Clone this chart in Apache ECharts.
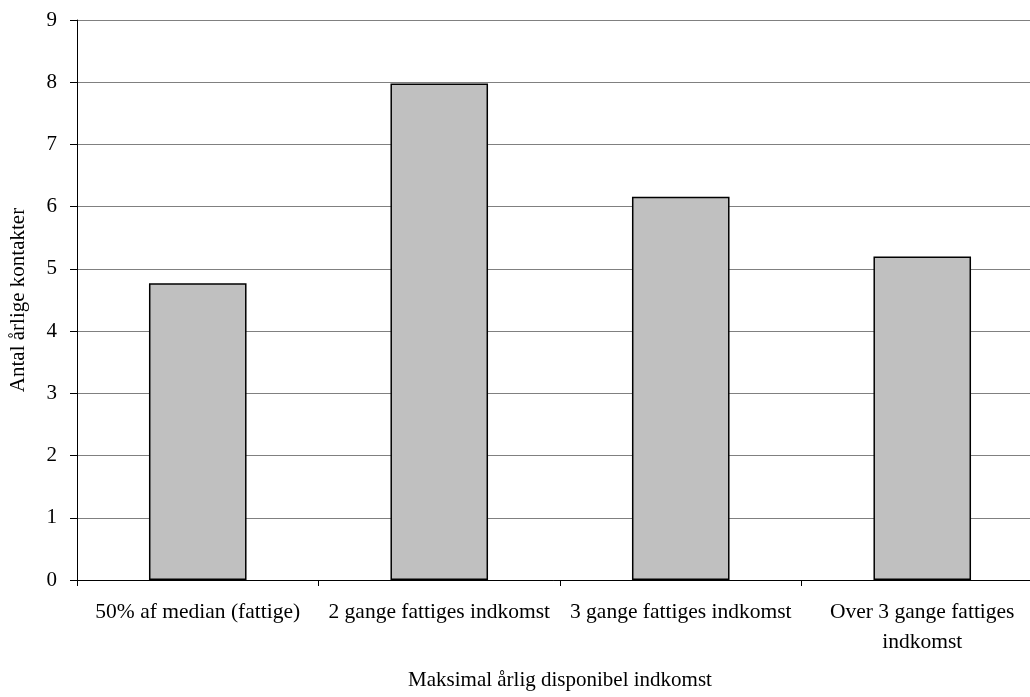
<!DOCTYPE html>
<html>
<head>
<meta charset="utf-8">
<script src="https://cdn.jsdelivr.net/npm/echarts@6/dist/echarts.min.js"></script>
<style>html,body{margin:0;padding:0;background:#fff}#c{width:1030px;height:697px}</style>
</head>
<body>
<div id="c"></div>
<script>
const categories = ['50% af median (fattige)', '2 gange fattiges indkomst', '3 gange fattiges indkomst', 'Over 3 gange fattiges indkomst'];
const values = [4.77, 7.98, 6.16, 5.2];
const yTicks = { min: 0, max: 9, interval: 1 };
const xTitle = 'Maksimal årlig disponibel indkomst';
const yTitle = 'Antal årlige kontakter';

const FONT = '"Liberation Serif", "DejaVu Serif", serif';
const chart = echarts.init(document.getElementById('c'));
chart.setOption({
  animation: false,
  backgroundColor: '#fff',
  grid: { left: 77, top: 20, right: -13, bottom: 117, containLabel: false, outerBoundsMode: 'none' },
  xAxis: {
    type: 'category', data: categories,
    name: xTitle, nameLocation: 'middle', nameGap: 90,
    nameTextStyle: { fontFamily: FONT, fontSize: 21, color: '#000' },
    axisLine: { lineStyle: { color: '#000', width: 1 } },
    axisTick: { show: true, length: 6, inside: false, alignWithLabel: false, lineStyle: { color: '#000' } },
    axisLabel: {
      interval: 0, fontFamily: FONT, fontSize: 21.5, color: '#000', margin: 17, lineHeight: 30,
      formatter: (v, i) => i === 3 ? v.replace(/ (\S+)$/, '\n$1') : v
    }
  },
  yAxis: {
    type: 'value', min: yTicks.min, max: yTicks.max, interval: yTicks.interval,
    name: yTitle, nameLocation: 'middle', nameGap: 48, nameRotate: 90,
    nameTextStyle: { fontFamily: FONT, fontSize: 21, color: '#000' },
    axisLine: { show: true, lineStyle: { color: '#000', width: 1 } },
    axisTick: { show: true, length: 7, lineStyle: { color: '#000' } },
    axisLabel: { fontFamily: FONT, fontSize: 21, color: '#000', margin: 20 },
    splitLine: { show: true, lineStyle: { color: '#808080', width: 1 } }
  },
  series: [{
    type: 'bar', data: values, barWidth: '40.4%',
    itemStyle: { color: '#c0c0c0', borderColor: '#000', borderWidth: 1.5 }
  }]
});
</script>
</body>
</html>
